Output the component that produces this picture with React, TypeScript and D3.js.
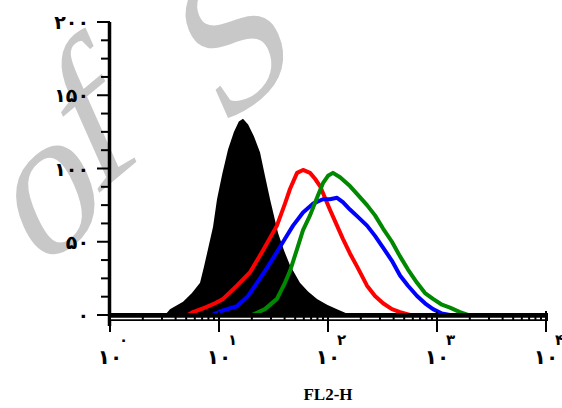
import React from "react";
import * as d3 from "d3";

// fluorescence intensity (FL2-H) vs. count
const controlX = [3.2, 3.55, 4.68, 5.65, 6.7, 7.28, 7.93, 8.81, 9.59, 10.7, 12.1, 13.7, 15.2, 16.6, 18.5, 20.9, 23.8, 26.4, 29.4, 34.8, 39.5, 44.8, 55.3, 65.6, 79.3, 98, 121, 149, 166];
const controlY = [0, 4, 9, 15, 22, 33, 45, 60, 79, 96, 113, 125, 132, 134, 130, 122, 111, 95, 79, 56, 44, 34, 22, 16, 11, 7, 4, 1, 0];

const redX = [5.2, 5.77, 7.44, 9.19, 10.9, 14.6, 19.2, 25.3, 34.0, 40.3, 44.8, 52.0, 59.0, 68.4, 76.0, 84.5, 104, 121, 137, 159, 185, 228, 270, 320, 386, 458, 565];
const redY = [0, 2, 5, 8, 11, 20, 29, 44, 61, 76, 86, 97, 99, 97, 93, 88, 72, 61, 52, 42, 33, 20, 13, 8, 4, 2, 0];

const blueX = [8.63, 10.7, 14.6, 18.5, 22.3, 27.5, 34.0, 40.3, 47.8, 59.0, 72.8, 89.9, 104, 121, 137, 159, 188, 228, 270, 320, 386, 458, 542, 656, 776, 919, 1110, 1315];
const blueY = [0, 3, 6, 13, 22, 32, 43, 52, 61, 70, 76, 79, 79, 80, 77, 72, 67, 61, 54, 46, 37, 27, 20, 13, 8, 4, 1, 0];

const greenX = [20.1, 26.4, 34.0, 40.3, 44.8, 52.0, 59.0, 68.4, 79.3, 89.9, 100, 111, 129, 159, 188, 228, 270, 320, 386, 458, 542, 656, 776, 919, 1110, 1315, 1625, 1923];
const greenY = [0, 4, 11, 22, 30, 45, 58, 68, 80, 90, 95, 97, 94, 88, 82, 75, 68, 59, 50, 40, 31, 22, 15, 11, 7, 5, 2, 0];

const yTicks = [0, 50, 100, 150, 200];
const yTickLabels = ["۰", "۵۰", "۱۰۰", "۱۵۰", "۲۰۰"];
const xDecades = [1, 10, 100, 1000, 10000];
const xExpLabels = ["۰", "۱", "۲", "۳", "۴"];
const xBaseLabel = "۱۰";
const xTitle = "FL2-H";
// watermark glyphs with their anchor points
const wmGlyphs = ["o", "f", "S"];
const wmAnchors: [number, number][] = [[37, 274], [93, 198], [220, 131]];

const zip = (xs: number[], ys: number[]) => xs.map((x, i) => [x, ys[i]] as [number, number]);

export default function App() {
  const W = 562, H = 408;
  const x = d3.scaleLog().domain([1, 10000]).range([110, 546]);
  const y = d3.scaleLinear().domain([0, 200]).range([315, 22]);

  const areaGen = d3.area<[number, number]>().x(d => x(d[0])).y0(y(0)).y1(d => y(d[1]));
  const line = d3.line<[number, number]>().x(d => x(d[0])).y(d => y(d[1]));

  const minorY = d3.range(0, 200.01, 12.5).filter(v => v % 50 !== 0);
  const minorX: number[] = [];
  for (let k = 0; k < 4; k++) for (let m = 2; m <= 9; m++) minorX.push(m * Math.pow(10, k));

  const digitFont = "'DejaVu Sans', sans-serif";

  return (
    <svg width={W} height={H} style={{ position: "absolute", left: 0, top: 0, background: "#fff" }}>
      {wmGlyphs.map((g, i) => (
        <text key={g} x={0} y={0}
          transform={`translate(${wmAnchors[i][0]} ${wmAnchors[i][1]}) rotate(-40) skewX(-16)`}
          fontFamily="'Liberation Serif', serif" fontSize={195} fill="#c8c8c8">{g}</text>
      ))}

      <path d={areaGen(zip(controlX, controlY)) || ""} fill="#000" />
      <path d={line(zip(redX, redY)) || ""} fill="none" stroke="#ff0000" strokeWidth={4} strokeLinejoin="round" />
      <path d={line(zip(blueX, blueY)) || ""} fill="none" stroke="#0000ff" strokeWidth={4} strokeLinejoin="round" />
      <path d={line(zip(greenX, greenY)) || ""} fill="none" stroke="#008800" strokeWidth={4} strokeLinejoin="round" />

      {/* y axis */}
      <line x1={109.5} x2={109.5} y1={y(200)} y2={326} stroke="#000" strokeWidth={3.5} />
      {yTicks.map((t, i) => (
        <g key={t}>
          <line x1={97} x2={110} y1={y(t)} y2={y(t)} stroke="#000" strokeWidth={2} />
          <text x={89} y={y(t) + 7} textAnchor="end" fontFamily={digitFont} fontWeight="bold" fontSize={19}
            letterSpacing={-5}>{yTickLabels[i]}</text>
        </g>
      ))}
      {minorY.map(t => (
        <line key={t} x1={101} x2={110} y1={y(t)} y2={y(t)} stroke="#000" strokeWidth={2} />
      ))}

      {/* x axis */}
      <rect x={108} y={313} width={440} height={8} fill="#000" />
      <line x1={110} x2={546} y1={318.5} y2={318.5} stroke="#fff" strokeWidth={1.5} />
      {minorX.map(v => (
        <line key={v} x1={x(v)} x2={x(v)} y1={316} y2={321} stroke="#000" strokeWidth={2} />
      ))}
      {xDecades.map((v, i) => (
        <g key={v}>
          <line x1={x(v)} x2={x(v)} y1={311} y2={332} stroke="#000" strokeWidth={2} />
          <text x={x(v)} y={364} textAnchor="middle" fontFamily={digitFont} fontWeight="bold" fontSize={20}
            letterSpacing={-5}>{xBaseLabel}</text>
          <text x={x(v) + 9} y={345} textAnchor="start" fontFamily={digitFont} fontWeight="bold" fontSize={15}>{xExpLabels[i]}</text>
        </g>
      ))}
      <text x={328} y={400} textAnchor="middle" fontFamily="'Liberation Serif', serif" fontWeight="bold" fontSize={17}>{xTitle}</text>
    </svg>
  );
}
